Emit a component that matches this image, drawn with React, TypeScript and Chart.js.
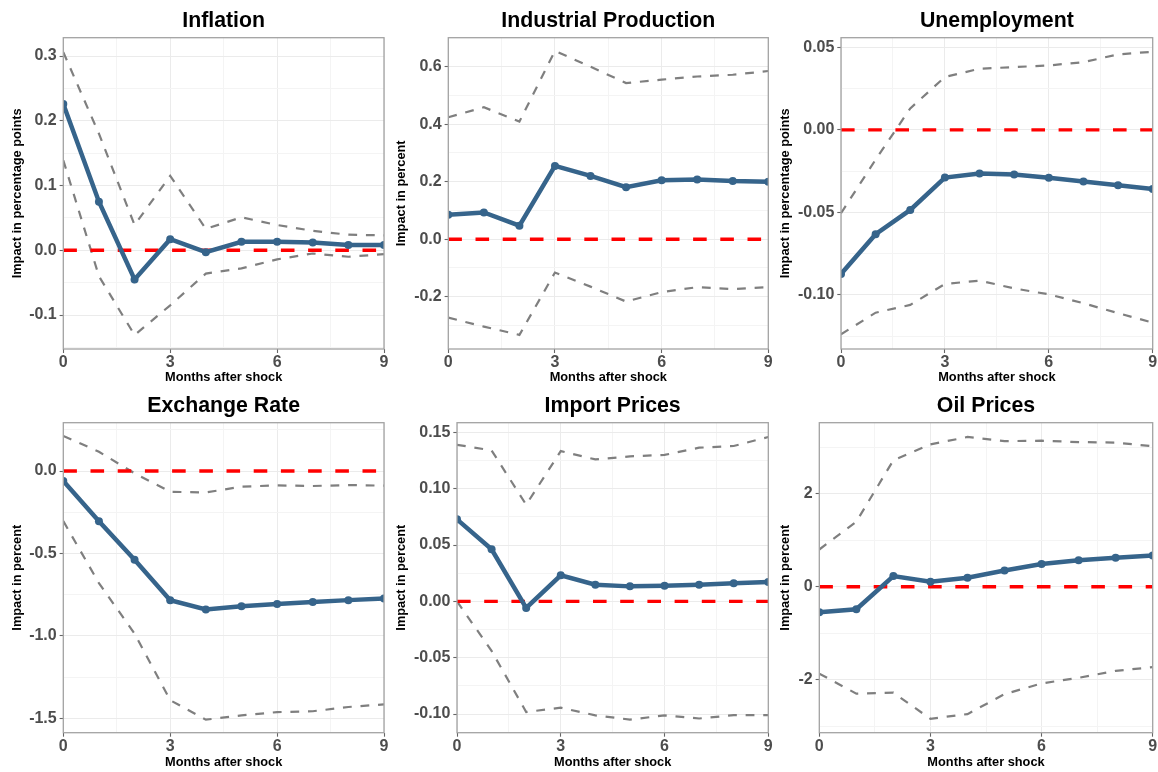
import React, { useEffect, useRef } from "react";
import { Chart, registerables } from "chart.js";

Chart.register(...registerables);

// ---------- data ----------
const months = [0, 1, 2, 3, 4, 5, 6, 7, 8, 9];

const inflationIrf = [0.226, 0.075, -0.045, 0.017, -0.003, 0.013, 0.013, 0.012, 0.008, 0.008];
const inflationUpper = [0.306, 0.18, 0.039, 0.115, 0.033, 0.051, 0.039, 0.03, 0.024, 0.023];
const inflationLower = [0.139, -0.04, -0.131, -0.085, -0.036, -0.028, -0.014, -0.005, -0.01, -0.006];

const ipIrf = [0.085, 0.093, 0.047, 0.255, 0.22, 0.181, 0.205, 0.208, 0.202, 0.2];
const ipUpper = [0.424, 0.459, 0.409, 0.655, 0.6, 0.543, 0.555, 0.566, 0.572, 0.585];
const ipLower = [-0.273, -0.304, -0.333, -0.116, -0.165, -0.217, -0.184, -0.167, -0.174, -0.167];

const unempIrf = [-0.0873, -0.0632, -0.0485, -0.0289, -0.0265, -0.027, -0.029, -0.0313, -0.0335, -0.0358];
const unempUpper = [-0.0505, -0.018, 0.013, 0.032, 0.037, 0.038, 0.039, 0.041, 0.0457, 0.0473];
const unempLower = [-0.1238, -0.1107, -0.106, -0.0933, -0.0913, -0.096, -0.0996, -0.105, -0.111, -0.1167];

const fxIrf = [-0.061, -0.304, -0.538, -0.783, -0.84, -0.82, -0.806, -0.794, -0.783, -0.773];
const fxUpper = [0.213, 0.117, -0.014, -0.126, -0.13, -0.095, -0.087, -0.091, -0.085, -0.089];
const fxLower = [-0.304, -0.68, -0.986, -1.39, -1.508, -1.482, -1.462, -1.457, -1.431, -1.415];

const importIrf = [0.0728, 0.0462, -0.0059, 0.0231, 0.0148, 0.0133, 0.0139, 0.0148, 0.016, 0.0172];
const importUpper = [0.139, 0.134, 0.0858, 0.1334, 0.126, 0.1287, 0.13, 0.1364, 0.1379, 0.1459];
const importLower = [0.0, -0.044, -0.0982, -0.0944, -0.1012, -0.105, -0.1012, -0.104, -0.101, -0.101];

const oilIrf = [-0.55, -0.486, 0.229, 0.107, 0.193, 0.35, 0.486, 0.571, 0.621, 0.671];
const oilUpper = [0.8, 1.4, 2.72, 3.06, 3.22, 3.13, 3.14, 3.11, 3.1, 3.02];
const oilLower = [-1.87, -2.3, -2.28, -2.84, -2.74, -2.31, -2.08, -1.96, -1.81, -1.73];

const titles = ["Inflation", "Industrial Production", "Unemployment", "Exchange Rate", "Import Prices", "Oil Prices"];
const yLabels = [
  "Impact in percentage points",
  "Impact in percent",
  "Impact in percentage points",
  "Impact in percent",
  "Impact in percent",
  "Impact in percent",
];
const xLabel = "Months after shock";
const xMajorStep = 3;

// ---------- layout / style ----------
const FONT = "'Liberation Sans', Arial, Helvetica, sans-serif";
const BLUE = "#36648B";
const GREY = "#7f7f7f";

type PanelCfg = {
  title: string;
  yLabel: string;
  irf: number[];
  upper: number[];
  lower: number[];
  yMin: number;
  yMax: number;
  major: number;
  decimals: number;
  left: number;
  top: number;
  width: number;
  height: number;
  plotL: number;
  plotR: number;
  plotT: number;
  plotB: number;
  yTitleX: number;
};

const panels: PanelCfg[] = [
  { title: titles[0], yLabel: yLabels[0], irf: inflationIrf, upper: inflationUpper, lower: inflationLower,
    yMin: -0.1525, yMax: 0.3283, major: 0.1, decimals: 1,
    left: 0, top: 0, width: 394, height: 387, plotL: 63.3, plotR: 384, plotT: 37.7, plotB: 349, yTitleX: 17.5 },
  { title: titles[1], yLabel: yLabels[1], irf: ipIrf, upper: ipUpper, lower: ipLower,
    yMin: -0.382, yMax: 0.7009, major: 0.2, decimals: 1,
    left: 386, top: 0, width: 394, height: 387, plotL: 448.3, plotR: 768.3, plotT: 37.7, plotB: 349, yTitleX: 401.7 },
  { title: titles[2], yLabel: yLabels[2], irf: unempIrf, upper: unempUpper, lower: unempLower,
    yMin: -0.1327, yMax: 0.0558, major: 0.05, decimals: 2,
    left: 772, top: 0, width: 386, height: 387, plotL: 841, plotR: 1152.7, plotT: 37.7, plotB: 349, yTitleX: 785.8 },
  { title: titles[3], yLabel: yLabels[3], irf: fxIrf, upper: fxUpper, lower: fxLower,
    yMin: -1.587, yMax: 0.293, major: 0.5, decimals: 1,
    left: 0, top: 385, width: 394, height: 387, plotL: 63.3, plotR: 384, plotT: 422.7, plotB: 732.7, yTitleX: 17 },
  { title: titles[4], yLabel: yLabels[4], irf: importIrf, upper: importUpper, lower: importLower,
    yMin: -0.1166, yMax: 0.1586, major: 0.05, decimals: 2,
    left: 386, top: 385, width: 394, height: 387, plotL: 457, plotR: 768.3, plotT: 422.7, plotB: 732.7, yTitleX: 401.7 },
  { title: titles[5], yLabel: yLabels[5], irf: oilIrf, upper: oilUpper, lower: oilLower,
    yMin: -3.14, yMax: 3.527, major: 2, decimals: 0,
    left: 772, top: 385, width: 386, height: 387, plotL: 819.3, plotR: 1152.7, plotT: 422.7, plotB: 732.7, yTitleX: 785.8 },
];

const isMultiple = (v: number, step: number) => {
  const r = v / step;
  return Math.abs(r - Math.round(r)) < 1e-6;
};

const toPoints = (ys: number[]) => months.map((m, i) => ({ x: m, y: ys[i] }));

function buildChart(canvas: HTMLCanvasElement, p: PanelCfg) {
  const axisTitleSize = 12.8;
  const lineHeight = axisTitleSize * 1.2;
  const titleBaseline = 27;
  const xTitleCenterRel = p.top === 0 ? 377.5 : 377.2;

  const panelPlugin = {
    id: "panelDecor",
    afterDatasetsDraw(chart: any) {
      const { ctx, chartArea: a } = chart;
      ctx.save();
      ctx.strokeStyle = "#a3a3a3";
      ctx.lineWidth = 1.3;
      ctx.strokeRect(a.left, a.top, a.right - a.left, a.bottom - a.top);
      ctx.restore();
    },
    afterDraw(chart: any) {
      const { ctx, chartArea: a } = chart;
      ctx.save();
      ctx.fillStyle = "#000";
      ctx.font = `bold 21.3px ${FONT}`;
      ctx.textAlign = "center";
      ctx.textBaseline = "alphabetic";
      ctx.fillText(p.title, (a.left + a.right) / 2, titleBaseline);
      ctx.restore();
    },
  };

  const zero = [{ x: months[0], y: 0 }, { x: months[months.length - 1], y: 0 }];

  return new Chart(canvas, {
    type: "line",
    data: {
      datasets: [
        {
          data: toPoints(p.irf),
          borderColor: BLUE,
          backgroundColor: BLUE,
          borderWidth: 4.5,
          pointRadius: 4,
          pointBorderWidth: 0,
          pointBackgroundColor: BLUE,
          tension: 0,
          clip: 0,
        },
        {
          data: zero,
          borderColor: "#ff0000",
          borderWidth: 3.4,
          borderDash: [13.6, 13.6],
          borderCapStyle: "butt",
          pointRadius: 0,
          tension: 0,
          clip: 0,
        },
        {
          data: toPoints(p.upper),
          borderColor: GREY,
          borderWidth: 2.2,
          borderDash: [8.8, 8.8],
          borderCapStyle: "butt",
          pointRadius: 0,
          tension: 0,
          clip: 0,
        },
        {
          data: toPoints(p.lower),
          borderColor: GREY,
          borderWidth: 2.2,
          borderDash: [8.8, 8.8],
          borderCapStyle: "butt",
          pointRadius: 0,
          tension: 0,
          clip: 0,
        },
      ],
    } as any,
    options: {
      responsive: false,
      animation: false,
      events: [],
      layout: {
        padding: {
          left: 0,
          right: p.width - (p.plotR - p.left),
          top: p.plotT - p.top,
          bottom: 0,
        },
      },
      plugins: {
        legend: { display: false },
        tooltip: { enabled: false },
        title: { display: false },
      },
      scales: {
        x: {
          type: "linear",
          min: months[0],
          max: months[months.length - 1],
          ticks: {
            stepSize: xMajorStep / 2,
            includeBounds: false,
            autoSkip: false,
            maxRotation: 0,
            color: "#4d4d4d",
            padding: 0,
            font: { family: FONT, size: 16, weight: "bold" },
            callback: (v: any) => (isMultiple(Number(v), xMajorStep) ? String(Math.round(Number(v))) : ""),
          },
          grid: {
            color: (c: any) => (c.tick && isMultiple(c.tick.value, xMajorStep) ? "#ebebeb" : "#f4f4f4"),
            lineWidth: 1,
            tickLength: 4,
            tickWidth: 1.1,
            tickColor: (c: any) => (c.tick && isMultiple(c.tick.value, xMajorStep) ? "#666666" : "rgba(0,0,0,0)"),
          },
          border: { display: false },
          title: {
            display: true,
            text: xLabel,
            color: "#000",
            font: { family: FONT, size: axisTitleSize, weight: "bold" },
            padding: { top: 0, bottom: p.height - xTitleCenterRel - lineHeight / 2 },
          },
          afterFit: (s: any) => {
            s.height = p.height - (p.plotB - p.top);
            s.paddingLeft = 0;
            s.paddingRight = 0;
          },
        },
        y: {
          type: "linear",
          min: p.yMin,
          max: p.yMax,
          ticks: {
            stepSize: p.major / 2,
            includeBounds: false,
            autoSkip: false,
            color: "#4d4d4d",
            padding: 2.9,
            font: { family: FONT, size: 16, weight: "bold" },
            callback: (v: any) => {
              const n = Number(v);
              if (!isMultiple(n, p.major)) return "";
              const r = Math.abs(n) < 1e-9 ? 0 : n;
              return r.toFixed(p.decimals);
            },
          },
          grid: {
            color: (c: any) => (c.tick && isMultiple(c.tick.value, p.major) ? "#ebebeb" : "#f4f4f4"),
            lineWidth: 1,
            tickLength: 3.7,
            tickWidth: 1.1,
            tickColor: (c: any) => (c.tick && isMultiple(c.tick.value, p.major) ? "#666666" : "rgba(0,0,0,0)"),
          },
          border: { display: false },
          title: {
            display: true,
            text: p.yLabel,
            color: "#000",
            font: { family: FONT, size: axisTitleSize, weight: "bold" },
            padding: { top: p.yTitleX - p.left - lineHeight / 2, bottom: 0 },
          },
          afterFit: (s: any) => {
            s.width = p.plotL - p.left;
            s.paddingTop = 0;
            s.paddingBottom = 0;
          },
        },
      },
    } as any,
    plugins: [panelPlugin],
  });
}

export default function App() {
  const refs = useRef<(HTMLCanvasElement | null)[]>([]);

  useEffect(() => {
    const charts = panels.map((p, i) => buildChart(refs.current[i] as HTMLCanvasElement, p));
    return () => charts.forEach((c) => c.destroy());
  }, []);

  return (
    <div style={{ position: "absolute", left: 0, top: 0, width: 1158, height: 772, background: "#fff", overflow: "hidden" }}>
      {panels.map((p, i) => (
        <canvas
          key={i}
          ref={(el) => {
            refs.current[i] = el;
          }}
          width={p.width}
          height={p.height}
          style={{ position: "absolute", left: p.left, top: p.top, width: p.width, height: p.height }}
        />
      ))}
    </div>
  );
}
